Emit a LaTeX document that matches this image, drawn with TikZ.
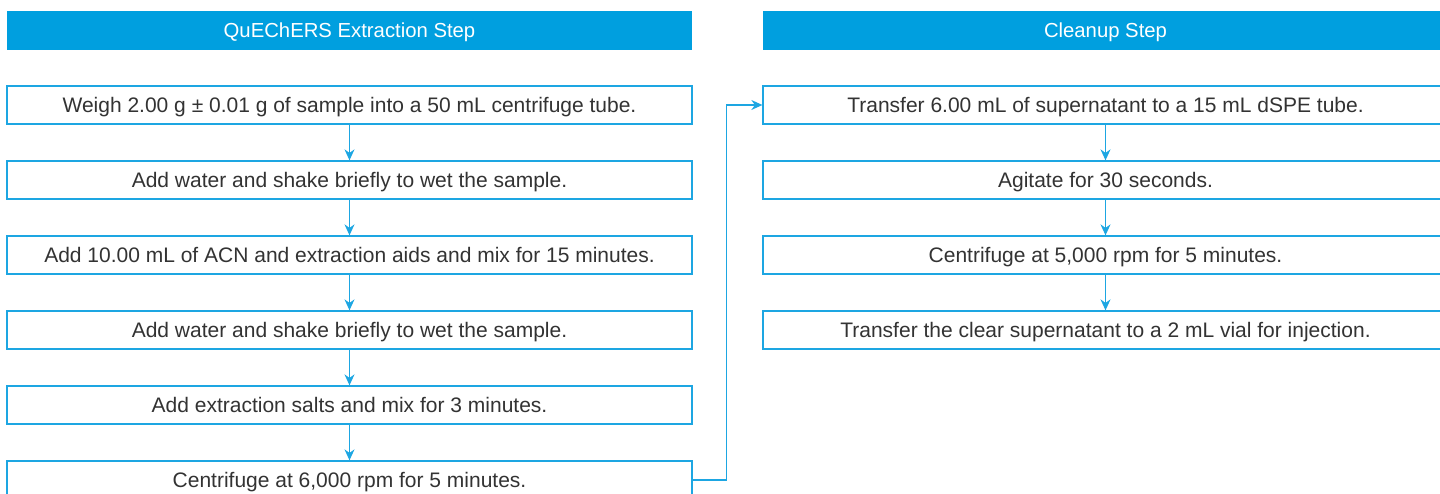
\documentclass[tikz,border=0pt]{standalone}
\usepackage{fontspec}
\setmainfont{Liberation Sans}
\usetikzlibrary{arrows.meta}
\definecolor{hdr}{HTML}{009FDF}
\definecolor{bx}{HTML}{1DA6E2}
\definecolor{txt}{HTML}{333333}
\tikzset{
  header/.style={fill=hdr, draw=none, minimum width=685pt, minimum height=39pt, inner sep=0pt, text height=14.5pt, text depth=0pt, text=white, font=\fontsize{20.3}{22}\selectfont},
  stepbox/.style={draw=bx, line width=1.3pt, fill=white, minimum width=685pt, minimum height=38pt, inner sep=0pt, text height=15pt, text depth=0pt, text=txt, font=\fontsize{21}{23}\selectfont},
  conn/.style={draw=bx, line width=1.3pt, -{Stealth[length=11pt,width=10pt]}}
}
\begin{document}
\begin{tikzpicture}[x=1pt,y=-1pt]
\useasboundingbox (0,0) rectangle (1440,494);
\node[header] (h1) at (349.5,30.5) {QuEChERS Extraction Step};
\node[header] (h2) at (1105.5,30.5) {Cleanup Step};

\node[stepbox] (a1) at (349.5,105) {Weigh 2.00 g ± 0.01 g of sample into a 50 mL centrifuge tube.};
\node[stepbox] (a2) at (349.5,180) {Add water and shake briefly to wet the sample.};
\node[stepbox] (a3) at (349.5,255) {Add 10.00 mL of ACN and extraction aids and mix for 15 minutes.};
\node[stepbox] (a4) at (349.5,330) {Add water and shake briefly to wet the sample.};
\node[stepbox] (a5) at (349.5,405) {Add extraction salts and mix for 3 minutes.};
\node[stepbox] (a6) at (349.5,480) {Centrifuge at 6,000 rpm for 5 minutes.};

\node[stepbox] (b1) at (1105.5,105) {Transfer 6.00 mL of supernatant to a 15 mL dSPE tube.};
\node[stepbox] (b2) at (1105.5,180) {Agitate for 30 seconds.};
\node[stepbox] (b3) at (1105.5,255) {Centrifuge at 5,000 rpm for 5 minutes.};
\node[stepbox] (b4) at (1105.5,330) {Transfer the clear supernatant to a 2 mL vial for injection.};

\foreach \u/\v in {a1/a2,a2/a3,a3/a4,a4/a5,a5/a6,b1/b2,b2/b3,b3/b4}
  \draw[conn] (\u.south) -- (\v.north);

\draw[conn] (a6.east) -- ++(34,0) |- (b1.west);
\end{tikzpicture}
\end{document}
